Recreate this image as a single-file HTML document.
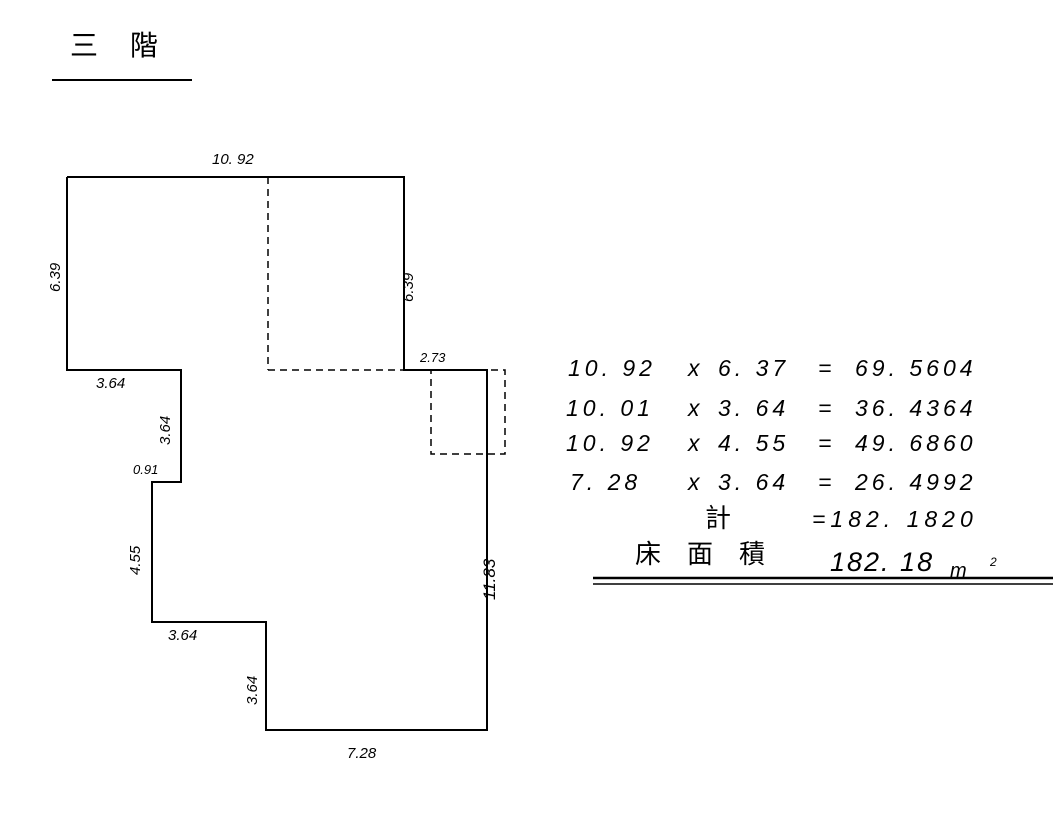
<!DOCTYPE html>
<html><head><meta charset="utf-8"><style>
body{margin:0;background:#fff;}
svg{display:block}
.n{font-family:"Liberation Sans",sans-serif;font-style:italic;fill:#000}
.c{font-family:"Liberation Sans","Noto Sans CJK TC",sans-serif;fill:#000}
</style></head><body>
<svg width="1053" height="820" viewBox="0 0 1053 820" xmlns="http://www.w3.org/2000/svg">
<text class="c" x="70" y="55" font-size="28">三</text>
<text class="c" x="130" y="55" font-size="28">階</text>
<line x1="52" y1="80" x2="192" y2="80" stroke="#000" stroke-width="2"/>
<polyline fill="none" stroke="#000" stroke-width="2" points="67,177 404,177 404,370 487,370 487,730 266,730 266,622 152,622 152,482 181,482 181,370 67,370 67,177"/>
<g stroke="#000" stroke-width="1.5" stroke-dasharray="7,5" fill="none">
<line x1="268" y1="177" x2="268" y2="370"/>
<line x1="268" y1="370" x2="404" y2="370"/>
<polyline points="431,370 505,370 505,454 431,454 431,370"/>
</g>
<g class="n" font-size="15">
<text x="212" y="164">10. 92</text>
<text x="347" y="758">7.28</text>
<text x="96" y="388">3.64</text>
<text x="168" y="640">3.64</text>
<text x="133" y="474" font-size="13">0.91</text>
<text x="420" y="362" font-size="13">2.73</text>
<text transform="translate(60,292) rotate(-90)">6.39</text>
<text transform="translate(413,302) rotate(-90)">6.39</text>
<text transform="translate(170,445) rotate(-90)">3.64</text>
<text transform="translate(140,575) rotate(-90)">4.55</text>
<text transform="translate(257,705) rotate(-90)">3.64</text>
<text transform="translate(495,600) rotate(-90)" font-size="17">11.83</text>
</g>
<g class="n" font-size="23" letter-spacing="4">
<text x="568" y="376">10. 92</text><text x="688" y="376">x</text><text x="718" y="376">6. 37</text><text x="818" y="376">=</text><text x="855" y="376">69. 5604</text>
<text x="566" y="416">10. 01</text><text x="688" y="416">x</text><text x="718" y="416">3. 64</text><text x="818" y="416">=</text><text x="855" y="416">36. 4364</text>
<text x="566" y="451">10. 92</text><text x="688" y="451">x</text><text x="718" y="451">4. 55</text><text x="818" y="451">=</text><text x="855" y="451">49. 6860</text>
<text x="570" y="490">7. 28</text><text x="688" y="490">x</text><text x="718" y="490">3. 64</text><text x="818" y="490">=</text><text x="855" y="490">26. 4992</text>
<text x="812" y="527" letter-spacing="5">=182. 1820</text>
<text x="830" y="571" font-size="27" letter-spacing="2">182. 18</text>
<text x="950" y="577" font-size="20" letter-spacing="0">m</text>
<text x="990" y="566" font-size="12" letter-spacing="0">2</text>
</g>
<text class="c" x="705" y="527" font-size="26">計</text>
<text class="c" x="635" y="563" font-size="26" letter-spacing="26">床面積</text>
<line x1="593" y1="578" x2="1053" y2="578" stroke="#000" stroke-width="2.5"/>
<line x1="593" y1="584" x2="1053" y2="584" stroke="#000" stroke-width="1.5"/>
</svg>
</body></html>
